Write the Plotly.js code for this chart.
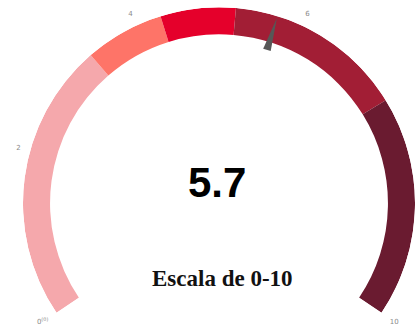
<!DOCTYPE html>
<html>
<head>
<meta charset="utf-8">
<script src="https://cdn.plot.ly/plotly-3.0.1.min.js"></script>
<style>html,body{margin:0;padding:0;background:#fff;}#chart{width:417px;height:325px;}</style>
</head>
<body>
<div id="chart"></div>
<script>
// ---- data ----
const gaugeValue = 5.7;
const valueLabel = '5.7';
const scaleTitle = 'Escala de 0-10';
const tickValues = [0, 2, 4, 6, 10];
const tickLabels = ['0<sup>(0)</sup>', '2', '4', '6', '10'];
const bandStart = [0, 3.35, 4.3, 5.2, 7.35];
const bandEnd = [3.35, 4.3, 5.2, 7.35, 10];
const bandColors = ['#f5a8ac', '#fe7468', '#e5002b', '#a21e35', '#6a1b30'];

// ---- geometry / style ----
const SCALE_MAX = 10;
const SPAN = 248;                 // degrees covered by the scale
const DEG = SPAN / SCALE_MAX;     // degrees per unit
const END = -34;                  // screen angle of the scale maximum
const BAND_IN = 0.862;            // inner radius fraction of the band
const toTheta = v => (SCALE_MAX - v) * DEG;

const bandTrace = {
  type: 'barpolar',
  subplot: 'polar',
  theta: bandStart.map((s, i) => toTheta((s + bandEnd[i]) / 2)),
  width: bandStart.map((s, i) => (bandEnd[i] - s) * DEG),
  r: bandStart.map(() => 1 - BAND_IN),
  base: bandStart.map(() => BAND_IN),
  marker: {color: bandColors, line: {width: 0}},
  hoverinfo: 'skip'
};

const vt = toTheta(gaugeValue);
const needle = {
  type: 'scatterpolar',
  subplot: 'polar2',
  mode: 'lines',
  r: [0.82, 0.99, 0.82, 0.82],
  theta: [vt - 1.4, vt, vt + 1.4, vt - 1.4],
  fill: 'toself',
  fillcolor: '#575757',
  line: {width: 0, color: '#575757'},
  hoverinfo: 'skip'
};

function polarLayout(bg, labels) {
  return {
    domain: {x: [0, 1], y: [0, 1]},
    bgcolor: bg,
    sector: [END, END + SPAN],
    hole: 0,
    radialaxis: {visible: false, range: [0, 1]},
    angularaxis: {
      rotation: END,
      direction: 'counterclockwise',
      thetaunit: 'degrees',
      tickmode: 'array',
      tickvals: tickValues.map(toTheta),
      ticktext: tickLabels,
      showticklabels: labels,
      ticks: labels ? 'outside' : '',
      ticklen: 8,
      tickcolor: 'rgba(0,0,0,0)',
      showgrid: false,
      showline: false,
      tickfont: {family: 'DejaVu Sans', size: 7, color: '#8a8a8a'}
    }
  };
}

const layout = {
  width: 417, height: 325,
  margin: {l: 23, r: 2, t: 7, b: 12},
  paper_bgcolor: '#fff',
  showlegend: false,
  polar: polarLayout('#fff', true),
  polar2: polarLayout('rgba(0,0,0,0)', false),
  annotations: [
    {text: valueLabel, xref: 'paper', yref: 'paper', x: 0.495, y: 0.428,
     showarrow: false, font: {family: 'Liberation Sans', size: 42, color: '#000', weight: 'bold'}},
    {text: '<b>' + scaleTitle + '</b>', xref: 'paper', yref: 'paper', x: 0.508, y: 0.065,
     showarrow: false, font: {family: 'Liberation Serif', size: 23, color: '#111'}}
  ]
};

Plotly.newPlot('chart', [bandTrace, needle], layout, {displayModeBar: false, staticPlot: true});
</script>
</body>
</html>
